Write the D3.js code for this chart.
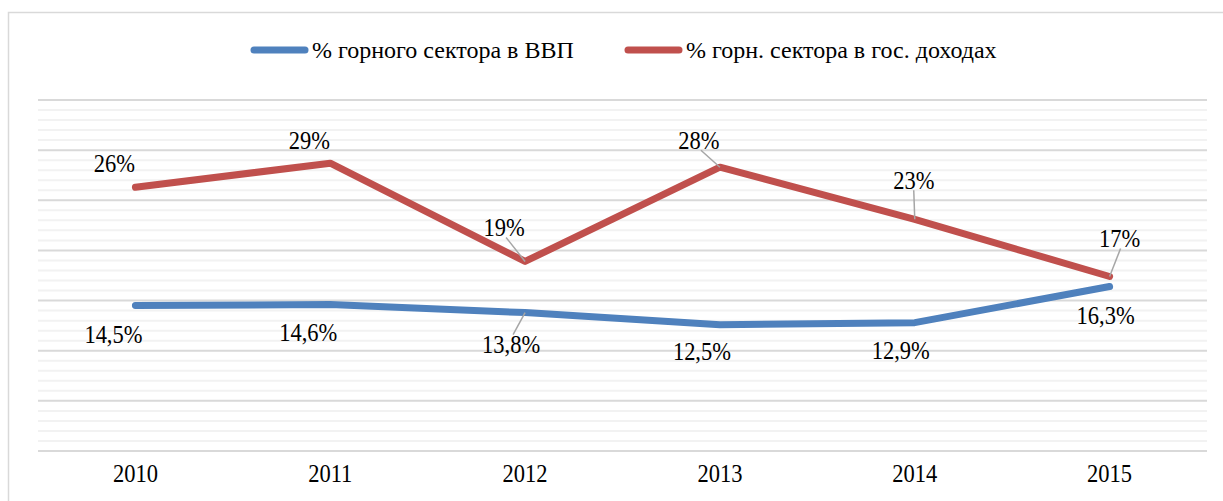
<!DOCTYPE html>
<html>
<head>
<meta charset="utf-8">
<script src="https://cdn.jsdelivr.net/npm/d3@7"></script>
<style>
  body { margin: 0; background: #fff; }
  text { font-family: "Liberation Serif", "Times New Roman", serif; fill: #000; }
</style>
</head>
<body>
<svg id="chart" width="1223" height="501"></svg>
<script>
// data
var years = ['2010', '2011', '2012', '2013', '2014', '2015']
var gdpShare = [14.5, 14.6, 13.8, 12.6, 12.8, 16.4]
var gdpLabels = ['14,5%', '14,6%', '13,8%', '12,5%', '12,9%', '16,3%']
var revShare = [26.3, 28.7, 18.9, 28.3, 23.1, 17.4]
var revLabels = ['26%', '29%', '19%', '28%', '23%', '17%']
var seriesNames = ['% горного сектора в ВВП', '% горн. сектора в гос. доходах']

// label placement (offset from point), leader line drawn when 3rd item = 1
var gdpLabelPos = [[-22, 29, 0], [-22, 28, 0], [-14, 32, 1], [-18, 27, 0], [-14, 28, 0], [-4, 29, 0]]
var revLabelPos = [[-21, -24, 0], [-21, -23, 0], [-21, -34, 1], [-21, -27, 1], [-1, -39, 1], [10, -38, 1]]

var svg = d3.select('#chart')
var plotLeft = 38, plotRight = 1207, plotTop = 100, plotBottom = 451
var sx = 0.9 // text looks horizontally condensed in reference

svg.append('rect')
    .attr('x', 8.5).attr('y', 12.5)
    .attr('width', 1400).attr('height', 700)
    .attr('fill', 'none').attr('stroke', '#d9d9d9').attr('stroke-width', 1.5)

var x = d3.scalePoint().domain(years).range([plotLeft, plotRight]).padding(0.5)
var y = d3.scaleLinear().domain([0, 35]).range([plotBottom, plotTop])

// gridlines: minor every 1%, major every 5%
var g = svg.append('g')
g.selectAll('.minor')
    .data(d3.range(0, 36).filter(function (v) { return v % 5 != 0 }))
    .enter().append('line')
    .attr('x1', plotLeft).attr('x2', plotRight)
    .attr('y1', function (d) { return y(d) }).attr('y2', function (d) { return y(d) })
    .attr('stroke', '#f2f2f2').attr('stroke-width', 2)
g.selectAll('.major')
    .data(d3.range(0, 36, 5))
    .enter().append('line')
    .attr('x1', plotLeft).attr('x2', plotRight)
    .attr('y1', function (d) { return y(d) }).attr('y2', function (d) { return y(d) })
    .attr('stroke', '#d9d9d9').attr('stroke-width', 2)

// x axis labels
svg.selectAll('.year')
    .data(years)
    .enter().append('text')
    .attr('text-anchor', 'middle')
    .attr('font-size', 25)
    .attr('transform', function (d) { return 'translate(' + x(d) + ',482) scale(' + sx + ',1)' })
    .text(function (d) { return d })

var line = d3.line()
    .x(function (d, i) { return x(years[i]) })
    .y(function (d) { return y(d) })

var series = [
    { values: gdpShare, labels: gdpLabels, pos: gdpLabelPos, color: '#4f81bd' },
    { values: revShare, labels: revLabels, pos: revLabelPos, color: '#c0504d' }
]

series.forEach(function (s) {
    svg.append('path')
        .attr('d', line(s.values))
        .attr('fill', 'none')
        .attr('stroke', s.color)
        .attr('stroke-width', 7)
        .attr('stroke-linecap', 'round')
        .attr('stroke-linejoin', 'round')
})

series.forEach(function (s) {
    s.values.forEach(function (v, i) {
        var px = x(years[i]), py = y(v)
        var p = s.pos[i]
        var lx = px + p[0], ly = py + p[1]
        if (p[2]) {
            // leader from label edge toward the point
            var sy = p[1] < 0 ? ly + 10 : ly - 10
            var sxp = lx + (p[0] < -5 ? 2 : (p[0] > 5 ? 1 : 0))
            svg.append('line')
                .attr('x1', sxp).attr('y1', sy)
                .attr('x2', px).attr('y2', py)
                .attr('stroke', '#a6a6a6').attr('stroke-width', 1.5)
        }
        svg.append('text')
            .attr('text-anchor', 'middle')
            .attr('font-size', 25)
            .attr('transform', 'translate(' + lx + ',' + (ly + 8.5) + ') scale(' + sx + ',1)')
            .text(s.labels[i])
    })
})

// legend
var legend = svg.append('g')
var legendX = [251, 625]
seriesNames.forEach(function (name, i) {
    var lg = legend.append('g').attr('transform', 'translate(' + legendX[i] + ',50)')
    lg.append('line')
        .attr('x1', 3).attr('x2', 54)
        .attr('stroke', series[i].color)
        .attr('stroke-width', 7)
        .attr('stroke-linecap', 'round')
    lg.append('text')
        .attr('font-size', 24)
        .attr('transform', 'translate(61,8)')
        .text(name)
})
</script>
</body>
</html>
